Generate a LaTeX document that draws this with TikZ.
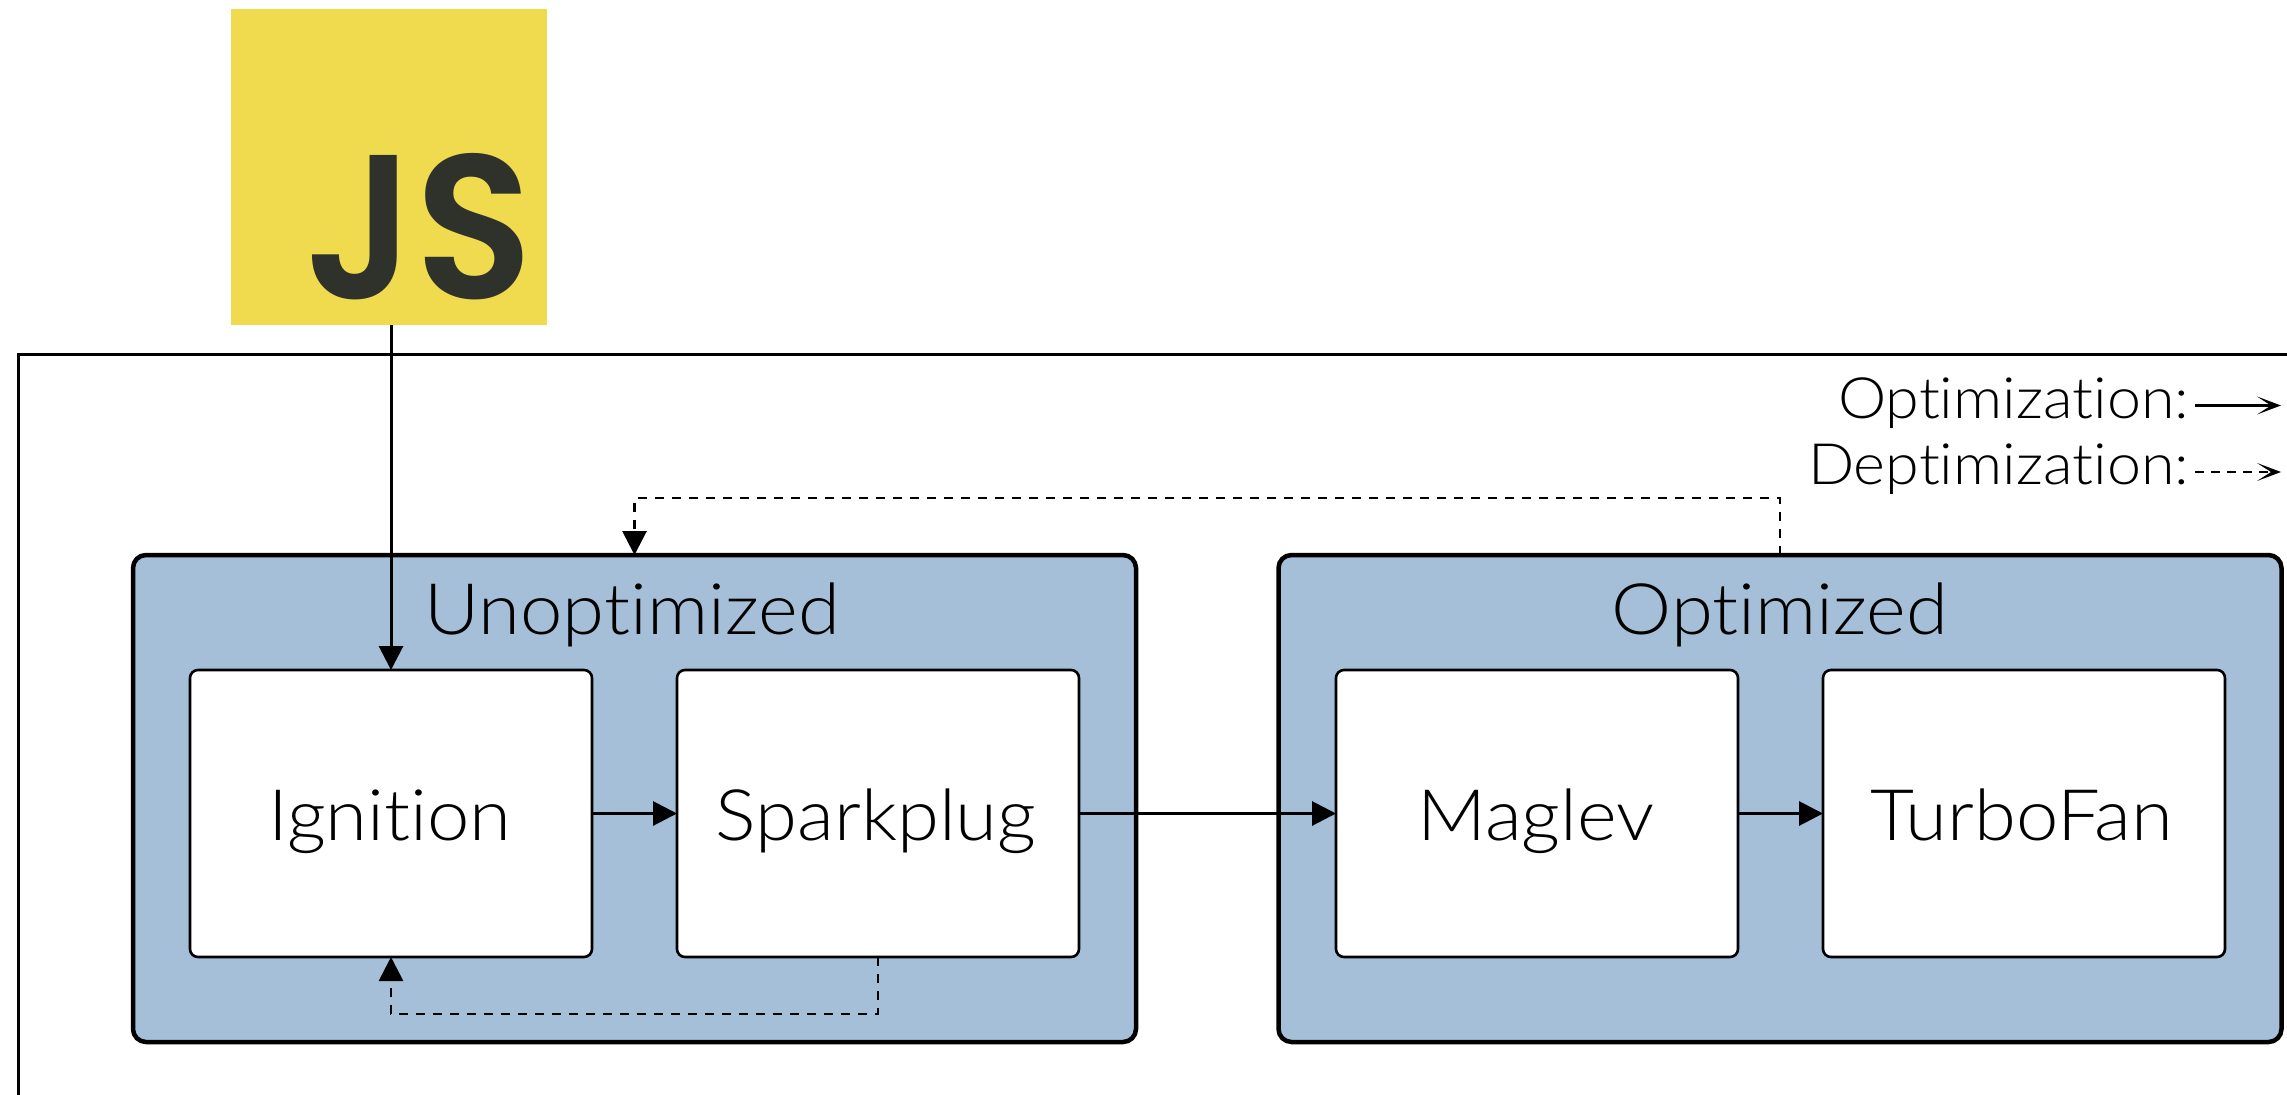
\documentclass[tikz,border=0pt]{standalone}
\usepackage{fontspec}
\usetikzlibrary{arrows.meta,calc}
\setmainfont{Lato Light}[Ligatures=NoCommon,FakeStretch=1.07]
\newfontfamily\jsfont{Poppins SemiBold}[FakeStretch=0.94]
\definecolor{jsyellow}{HTML}{F0DB4F}
\definecolor{jsdark}{HTML}{2F312B}
\definecolor{groupblue}{HTML}{A5BFD9}
\tikzset{
  x=1pt,y=-1pt,
  every node/.style={outer sep=0pt,inner sep=0pt},
  group/.style={draw=black,fill=groupblue,line width=4.5pt,rounded corners=13pt,minimum width=1003pt,minimum height=487pt},
  stage/.style={draw=black,fill=white,line width=2.6pt,rounded corners=8pt,minimum width=402pt,minimum height=287pt},
  big/.style={anchor=base,font=\fontsize{71}{71}\selectfont},
  legendtext/.style={anchor=base east,font=\fontsize{57}{57}\selectfont},
  flow/.style={line width=3pt,-{Triangle[length=24pt,width=24pt]}},
  deopt/.style={line width=2.9pt,dash pattern=on 9pt off 8pt,-{Triangle[length=24pt,width=24pt]}},
  barb/.style={line width=2.6pt,-{Stealth[length=24pt,width=18pt,inset=14pt]}},
}
\begin{document}
\begin{tikzpicture}
\useasboundingbox (0,0) rectangle (2287,1095);
\fill[white] (0,0) rectangle (2287,1095);
\draw[line width=3pt] (18.5,1095) -- (18.5,354.5) -- (2287,354.5);
\node[fill=jsyellow,minimum width=316pt,minimum height=316pt] (js) at (389,167) {};
\node[anchor=base,text=jsdark,font=\fontsize{205}{205}\jsfont] (jstext) at (419,298) {JS};
\node[group] (unopt) at (634.5,798.5) {};
\node[group] (opt) at (1780,798.5) {};
\node[big] (unoptlabel) at (632,634) {Unoptimized};
\node[big] (optlabel) at (1780,634) {Optimized};
\node[stage] (ign) at (391,813.5) {};
\node[stage] (spark) at (878,813.5) {};
\node[stage] (mag) at (1537,813.5) {};
\node[stage] (turbo) at (2024,813.5) {};
\node[big] (ignlabel) at (390,840) {Ignition};
\node[big] (sparklabel) at (876,840) {Sparkplug};
\node[big] (maglabel) at (1536,840) {Maglev};
\node[big] (turbolabel) at (2022,840) {TurboFan};
\node[legendtext] (legopt) at (2189,418) {Optimization:};
\node[legendtext] (legdeopt) at (2189,484) {Deptimization:};
\coordinate (legoptend) at (2281,405.5);
\coordinate (legdeoptend) at (2281,472);
\coordinate (legoptstart) at (2195,405.5);
\coordinate (legdeoptstart) at (2195,472);
\draw[barb] (legoptstart) -- (legoptend);
\draw[barb,dash pattern=on 9pt off 7pt] (legdeoptstart) -- (legdeoptend);
\draw[flow] (ign.north |- js.south) -- (ign.north);
\draw[flow] (ign.east) -- (spark.west);
\draw[flow] (spark.east) -- (mag.west);
\draw[flow] (mag.east) -- (turbo.west);
\draw[deopt] (spark.south) -- ++(0,57) -| (ign.south);
\draw[deopt] (opt.north) -- ++(0,-57) -| (unopt.north);
\end{tikzpicture}
\end{document}
